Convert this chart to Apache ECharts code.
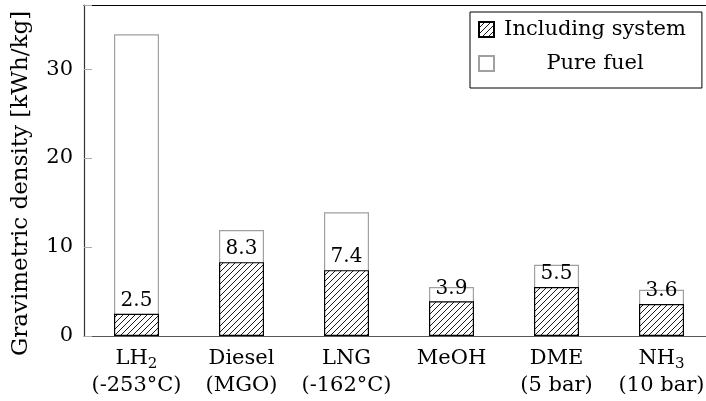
<!DOCTYPE html>
<html>
<head>
<meta charset="utf-8">
<script src="https://cdn.jsdelivr.net/npm/echarts@6/dist/echarts.min.js"></script>
<style>html,body{margin:0;padding:0;background:#fff}#c{width:706px;height:401px}</style>
</head>
<body>
<div id="c"></div>
<script>
const categories = ['LH2', 'Diesel', 'LNG', 'MeOH', 'DME', 'NH3'];
const subLines = ['(-253°C)', '(MGO)', '(-162°C)', '', '(5 bar)', '(10 bar)'];
const pureFuel = [33.9, 11.9, 13.9, 5.5, 8.0, 5.2];
const includingSystem = [2.5, 8.3, 7.4, 3.9, 5.5, 3.6];
const yTicks = [0, 10, 20, 30];

const FONT = 'DejaVu Serif';

function hatch() {
  const s = 6;
  const c = document.createElement('canvas');
  c.width = s; c.height = s;
  const g = c.getContext('2d');
  g.fillStyle = '#fff';
  g.fillRect(0, 0, s, s);
  g.strokeStyle = '#000';
  g.lineWidth = 0.9;
  g.beginPath();
  g.moveTo(0, s); g.lineTo(s, 0);
  g.moveTo(-s / 2, s / 2); g.lineTo(s / 2, -s / 2);
  g.moveTo(s / 2, s * 1.5); g.lineTo(s * 1.5, s / 2);
  g.stroke();
  return c;
}

function catLabel(v) {
  const i = categories.indexOf(v);
  const main = v.replace(/(\d)/, '{sub|$1}');
  return subLines[i] ? main + '\n' + subLines[i] : main;
}

const chart = echarts.init(document.getElementById('c'), null, {renderer: 'canvas'});
chart.setOption({
  animation: false,
  grid: {left: 84, width: 630, top: 5, bottom: 65, containLabel: false, outerBoundsMode: 'none'},
  legend: {
    data: ['Including system', 'Pure fuel'],
    orient: 'vertical',
    left: 470, top: 12,
    icon: 'rect',
    itemWidth: 15, itemHeight: 15, itemGap: 13,
    padding: [7, 16, 14, 8],
    borderColor: '#000', borderWidth: 1, borderRadius: 0,
    backgroundColor: '#fff',
    formatter: n => '{c|' + n + '}',
    textStyle: {
      fontFamily: FONT, fontSize: 21, color: '#000',
      rich: {c: {width: 192, align: 'center', fontFamily: FONT, fontSize: 21, color: '#000'}}
    }
  },
  xAxis: [{
    type: 'category', data: categories, position: 'bottom',
    axisLine: {onZero: false, lineStyle: {color: '#555', width: 1.2}},
    axisTick: {inside: true, alignWithLabel: true, length: 8, lineStyle: {color: '#aaa'}},
    axisLabel: {
      interval: 0, margin: 9, color: '#000', fontFamily: FONT, fontSize: 21, lineHeight: 27,
      formatter: catLabel,
      rich: {sub: {fontFamily: FONT, fontSize: 15, lineHeight: 15, verticalAlign: 'bottom', color: '#000'}}
    }
  }, {
    type: 'category', data: categories, position: 'top',
    axisLine: {onZero: false, lineStyle: {color: '#000', width: 1.2}},
    axisTick: {inside: true, alignWithLabel: true, length: 8, lineStyle: {color: '#aaa'}},
    axisLabel: {show: false}
  }],
  yAxis: [{
    type: 'value', min: 0, max: 37.2, interval: 10, position: 'left',
    axisLine: {show: true, onZero: false, lineStyle: {color: '#333', width: 1.2}},
    axisTick: {show: true, inside: true, length: 8, lineStyle: {color: '#aaa'}},
    splitLine: {show: false},
    axisLabel: {
      margin: 11, color: '#000', fontFamily: FONT, fontSize: 21,
      formatter: v => yTicks.includes(v) ? String(v) : ''
    },
    name: 'Gravimetric density [kWh/kg]', nameLocation: 'middle', nameGap: 51,
    nameTextStyle: {fontFamily: FONT, fontSize: 23, color: '#000', padding: [0, 26, 0, 0]}
  }, {
    type: 'value', min: 0, max: 37.2, interval: 10, position: 'right',
    axisLine: {show: true, onZero: false, lineStyle: {color: '#333', width: 1.2}},
    axisTick: {show: true, inside: true, length: 8, lineStyle: {color: '#aaa'}},
    splitLine: {show: false},
    axisLabel: {show: false}
  }],
  series: [{
    name: 'Pure fuel', type: 'bar', data: pureFuel,
    xAxisIndex: 0, yAxisIndex: 0,
    barWidth: 45, barGap: '-100%', z: 2,
    itemStyle: {color: '#fff', borderColor: '#a0a0a0', borderWidth: 1.2}
  }, {
    name: 'Including system', type: 'bar', data: includingSystem,
    xAxisIndex: 0, yAxisIndex: 0,
    barWidth: 45, barGap: '-100%', z: 3,
    itemStyle: {color: {image: hatch(), repeat: 'repeat'}, borderColor: '#000', borderWidth: 1.2},
    label: {show: true, position: 'top', distance: 3, color: '#000', fontFamily: FONT, fontSize: 20}
  }]
});
</script>
</body>
</html>
